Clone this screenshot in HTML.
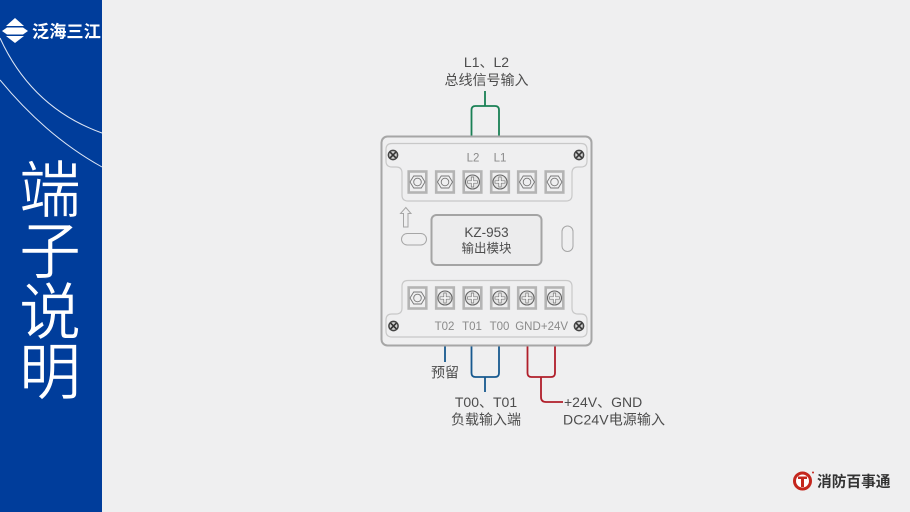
<!DOCTYPE html>
<html><head><meta charset="utf-8"><style>
html,body{margin:0;padding:0;background:#efeff0}
svg{display:block}
text{font-family:"Liberation Sans","Noto Sans CJK SC",sans-serif}
</style></head><body>
<svg xmlns="http://www.w3.org/2000/svg" width="910" height="512" viewBox="0 0 910 512">
<defs>
<g id="hex"><rect x="-8.800" y="-10.500" width="17.600" height="21" fill="#efeff0" stroke="#b4b4b4" stroke-width="2.600"/><polygon points="-7.500,0 -3.800,-6 3.800,-6 7.500,0 3.800,6 -3.800,6" fill="none" stroke="#777" stroke-width="0.900"/><circle r="3.800" fill="none" stroke="#777" stroke-width="0.900"/></g>
<g id="plus"><rect x="-8.800" y="-10.500" width="17.600" height="21" fill="#efeff0" stroke="#b4b4b4" stroke-width="2.600"/><circle r="7" fill="#e4e4e4" stroke="#666" stroke-width="1.100"/><path d="M-5 -1.200H-1.200V-5H1.200V-1.200H5V1.200H1.200V5H-1.200V1.200H-5Z" fill="#f6f6f6" stroke="#777" stroke-width="0.700"/></g>
<g id="screw"><circle r="4.600" fill="#d0d0d0" stroke="#444" stroke-width="1.500"/><path d="M-2.800 -2.800L2.800 2.800M-2.800 2.800L2.800 -2.800" stroke="#333" stroke-width="1.600"/></g>
</defs>
<rect width="910" height="512" fill="#efeff0"/>
<rect width="102" height="512" fill="#003d9b"/>
<path d="M0 38Q32 108 102 133" fill="none" stroke="#dfe7f5" stroke-width="1"/>
<path d="M0 80Q46 136 102 167" fill="none" stroke="#dfe7f5" stroke-width="1"/>
<polygon points="15,18 24,26 6,26" fill="#fff"/>
<polygon points="2,31 7,27.500 23,27.500 28,31 23,34.500 7,34.500" fill="#fff"/>
<polygon points="6,36 24,36 15,43" fill="#fff"/>
<text x="32" y="37.500" font-size="17.200" font-weight="700" fill="#fff">泛海三江</text>
<g fill="#fff" stroke="#003d9b" stroke-width="0.700" font-size="62" text-anchor="middle">
<text x="50" y="212">端</text><text x="50" y="273">子</text><text x="50" y="334">说</text><text x="50" y="394">明</text>
</g>

<g fill="none" stroke-width="1.800">
<path d="M471.500 136V110Q471.500 106 475.500 106H495Q499 106 499 110V136M485 106V91" stroke="#1a8055"/>
<path d="M445 346V362M471.500 346V373Q471.500 377 475.500 377H495Q499 377 499 373V346M485 377V392" stroke="#17598f"/>
<path d="M527.500 346V373Q527.500 377 531.500 377H551Q555 377 555 373V346M541 377V397Q541 402 546 402H563" stroke="#b01e2a"/>
</g>

<rect x="381.500" y="136.500" width="210" height="209" rx="6" fill="#efeff0" stroke="#a6a6a6" stroke-width="2"/>
<path d="M392 143.500H581Q587 143.500 587 149.500V161Q587 167 581 167H578Q572 167 572 173V195Q572 201 566 201H408Q402 201 402 195V173Q402 167 396 167H392Q386 167 386 161V149.500Q386 143.500 392 143.500Z" fill="none" stroke="#c8c8c8" stroke-width="1.200"/>
<path d="M408 280.500H566Q572 280.500 572 286.500V308Q572 314 578 314H581Q587 314 587 320V331Q587 337 581 337H392Q386 337 386 331V320Q386 314 392 314H396Q402 314 402 308V286.500Q402 280.500 408 280.500Z" fill="none" stroke="#c8c8c8" stroke-width="1.200"/>

<use href="#screw" x="393" y="155"/><use href="#screw" x="579" y="155"/>
<use href="#screw" x="393.500" y="326"/><use href="#screw" x="579" y="326"/>

<use href="#hex" x="417.500" y="182"/><use href="#hex" x="445" y="182"/>
<use href="#plus" x="472.500" y="182"/><use href="#plus" x="500" y="182"/>
<use href="#hex" x="527" y="182"/><use href="#hex" x="554.500" y="182"/>
<use href="#hex" x="417.500" y="298"/><use href="#plus" x="445" y="298"/>
<use href="#plus" x="472.500" y="298"/><use href="#plus" x="500" y="298"/>
<use href="#plus" x="527" y="298"/><use href="#plus" x="554.500" y="298"/>

<g font-size="11.500" fill="#8a8a8a" text-anchor="middle">
<text x="473" y="161.500">L2</text><text x="500" y="161.500">L1</text>
<text x="444.500" y="330">T02</text><text x="472" y="330">T01</text><text x="499.500" y="330">T00</text>
<text x="528" y="330">GND</text><text x="554.500" y="330">+24V</text>
</g>

<path d="M405.800 207.500L411 213.500H408V227H403.500V213.500H400.500Z" fill="none" stroke="#a6a6a6" stroke-width="1"/>
<rect x="401.500" y="233.500" width="25" height="11.500" rx="5.700" fill="none" stroke="#a6a6a6" stroke-width="1"/>
<rect x="562" y="226" width="11" height="25.500" rx="5.500" fill="none" stroke="#a6a6a6" stroke-width="1"/>
<rect x="431.500" y="215" width="110" height="50" rx="5" fill="#ececed" stroke="#a4a4a4" stroke-width="2"/>

<g fill="#4d4d4d" text-anchor="middle">
<text x="486.500" y="237" font-size="13.500">KZ-953</text>
<text x="486.500" y="252.500" font-size="12.500">输出模块</text>
<text x="486.500" y="67" font-size="14">L1、L2</text>
<text x="486.500" y="85" font-size="14">总线信号输入</text>
<text x="445" y="377.500" font-size="14">预留</text>
<text x="486" y="407" font-size="14">T00、T01</text>
<text x="486" y="424.500" font-size="14">负载输入端</text>
</g>
<g fill="#4d4d4d" font-size="14">
<text x="564" y="407">+24V、GND</text>
<text x="563" y="424.500" textLength="102" lengthAdjust="spacing">DC24V电源输入</text>
</g>

<circle cx="802.500" cy="481" r="8" fill="#fff" stroke="#c4261d" stroke-width="3"/>
<path d="M798 476.500H807V479H804V487H801V479H798Z" fill="#c4261d"/>
<circle cx="813" cy="472.500" r="1" fill="#c4261d"/>
<text x="817" y="486.500" font-size="14.700" font-weight="700" fill="#333">消防百事通</text>
</svg>
</body></html>
